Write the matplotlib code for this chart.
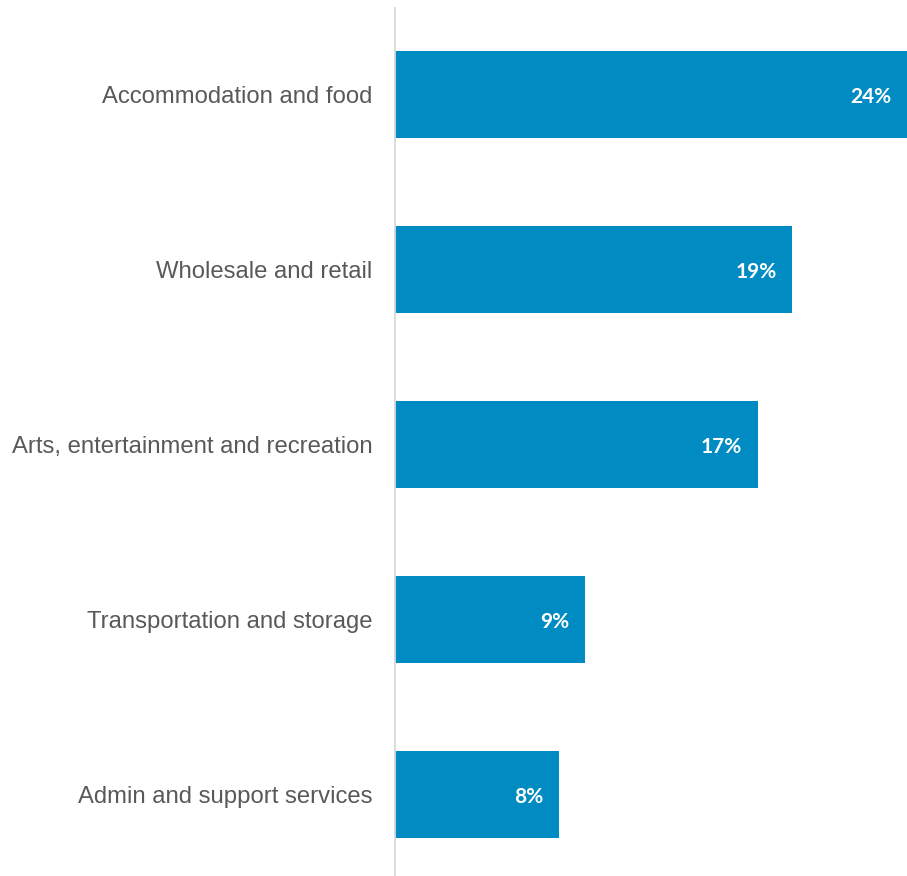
import matplotlib
matplotlib.use("Agg")
import matplotlib.pyplot as plt

# Share of businesses by sector (%)
sectors = [
    "Accommodation and food",
    "Wholesale and retail",
    "Arts, entertainment and recreation",
    "Transportation and storage",
    "Admin and support services",
]
shares = [24.0, 18.6, 17.0, 8.9, 7.7]

bar_color = "#008BC2"
text_color = "#595959"
axis_color = "#D9D9D9"

fig = plt.figure(figsize=(9.07, 8.76), dpi=100)
ax = fig.add_axes([394.5 / 907, 0, 512.5 / 907, 868 / 876])

positions = list(range(len(sectors)))
bars = ax.barh(positions, shares, height=0.5, color=bar_color, zorder=2)

ax.set_xlim(0, 24)
ax.set_ylim(4.466, -0.494)

ax.set_yticks(positions)
ax.set_yticklabels(sectors, fontsize=17.2, color=text_color,
                   family=["Liberation Sans", "DejaVu Sans"])
ax.tick_params(axis="y", length=0, pad=16)
ax.set_xticks([])

for side in ("top", "right", "bottom"):
    ax.spines[side].set_visible(False)
ax.spines["left"].set_color(axis_color)
ax.spines["left"].set_linewidth(1.3)

for rect, v in zip(bars, shares):
    ax.annotate(f"{round(v):d}%",
                xy=(rect.get_width(), rect.get_y() + rect.get_height() / 2),
                xytext=(-11, -1.5), textcoords="offset points",
                ha="right", va="center", color="white",
                fontsize=15, fontweight="bold",
                family=["Lato", "DejaVu Sans"])

fig.savefig("out.png", dpi=100)
